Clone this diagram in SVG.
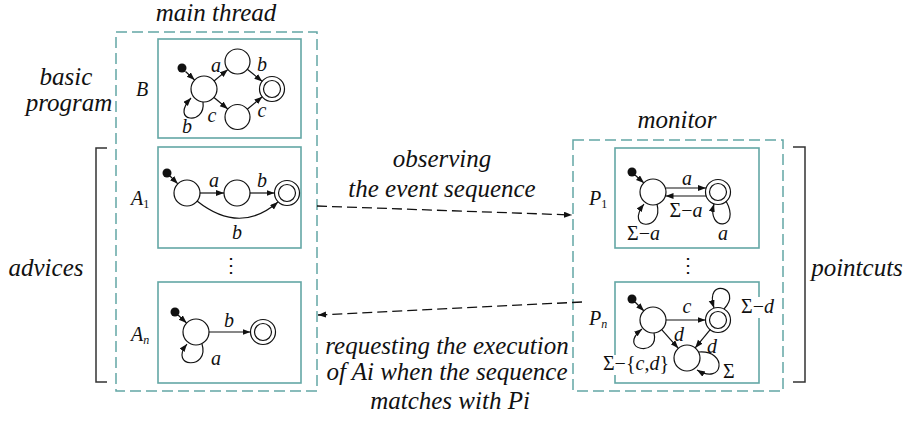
<svg xmlns="http://www.w3.org/2000/svg" width="907" height="424" viewBox="0 0 907 424">
<style>
.t{font-family:"Liberation Serif","Times New Roman",serif;font-style:italic;font-size:25px;fill:#111}
.l{font-family:"Liberation Serif","Times New Roman",serif;font-style:italic;font-size:20px;fill:#111}
.u{font-style:normal}
.sub{font-size:12px}
.dbox{fill:none;stroke:#63a7a5;stroke-width:1.5;stroke-dasharray:11 5}
.box{fill:#fff;stroke:#63a7a5;stroke-width:1.6}
.st{fill:#fff;stroke:#111;stroke-width:1.2}
.e{fill:none;stroke:#111;stroke-width:1.2;marker-end:url(#ah)}
.dash{fill:none;stroke:#111;stroke-width:1.3;stroke-dasharray:10 5;marker-end:url(#ah)}
.br{fill:none;stroke:#333;stroke-width:1.5}
</style>
<defs>
<marker id="ah" markerUnits="userSpaceOnUse" markerWidth="9" markerHeight="7" refX="8" refY="3" orient="auto">
<path d="M0,0 L8,3 L0,6 z" fill="#111"/>
</marker>
</defs>
<rect width="907" height="424" fill="#fff"/>

<g id="main-thread">
<rect class="dbox" x="116" y="32" width="201" height="359"/>
<text class="t" x="216" y="21" text-anchor="middle">main thread</text>
</g>

<g id="monitor">
<rect class="dbox" x="573" y="140" width="210" height="251"/>
<text class="t" x="677" y="128" text-anchor="middle">monitor</text>
</g>

<g id="labels-left">
<text class="t" x="66" y="85" text-anchor="middle">basic</text>
<text class="t" x="69" y="111" text-anchor="middle">program</text>
<text class="t" x="46" y="276" text-anchor="middle">advices</text>
<path class="br" d="M107,148 H96 V382 H107"/>
</g>

<g id="labels-right">
<path class="br" d="M793,147 H805 V382 H793"/>
<text class="t" x="857" y="276" text-anchor="middle">pointcuts</text>
</g>

<g id="B">
<rect class="box" x="158" y="39" width="143" height="99"/>
<text class="l" x="136" y="96">B</text>
<circle cx="182" cy="68" r="4.5" fill="#111"/>
<path class="e" d="M185.5,71.5 L194.6,80"/>
<circle class="st" cx="204" cy="89" r="13"/>
<circle class="st" cx="237.5" cy="61.5" r="12.5"/>
<circle class="st" cx="237.5" cy="117" r="12.5"/>
<circle class="st" cx="272" cy="89" r="12.5"/>
<circle class="st" cx="272" cy="89" r="8.5"/>
<path class="e" d="M214,81 L227.8,69.6"/>
<path class="e" d="M247.3,69.3 L262.3,81.4"/>
<path class="e" d="M214,97.5 L227.8,109"/>
<path class="e" d="M247.3,109.2 L262.3,96.7"/>
<path class="e" d="M203,102 C206,126 169,122 191,98"/>
<text class="l" x="216" y="72" text-anchor="middle">a</text>
<text class="l" x="262" y="71" text-anchor="middle">b</text>
<text class="l" x="212" y="122" text-anchor="middle">c</text>
<text class="l" x="262" y="117" text-anchor="middle">c</text>
<text class="l" x="187" y="133" text-anchor="middle">b</text>
</g>

<g id="A1">
<rect class="box" x="158" y="147" width="143" height="101"/>
<text class="l" x="131" y="205">A<tspan class="sub u" dy="3">1</tspan></text>
<circle cx="167" cy="173" r="4.5" fill="#111"/>
<path class="e" d="M170,176 L177.8,183.8"/>
<circle class="st" cx="187" cy="193" r="13"/>
<circle class="st" cx="237" cy="193" r="13"/>
<circle class="st" cx="287" cy="193" r="12.5"/>
<circle class="st" cx="287" cy="193" r="8.5"/>
<path class="e" d="M200,193 L224,193"/>
<path class="e" d="M250,193 L274.5,193"/>
<path class="e" d="M197,201 Q240,235 278,202"/>
<text class="l" x="214" y="187" text-anchor="middle">a</text>
<text class="l" x="262" y="187" text-anchor="middle">b</text>
<text class="l" x="237" y="239" text-anchor="middle">b</text>
</g>

<g id="ellipsis-left">
<text class="l u" x="231" y="272" text-anchor="middle">⋮</text>
</g>

<g id="An">
<rect class="box" x="158" y="282" width="143" height="101"/>
<text class="l" x="131" y="341">A<tspan class="sub" dy="3">n</tspan></text>
<circle cx="175" cy="312" r="4.5" fill="#111"/>
<path class="e" d="M178,315 L186.6,323"/>
<circle class="st" cx="196" cy="332" r="13"/>
<circle class="st" cx="263" cy="332" r="12.5"/>
<circle class="st" cx="263" cy="332" r="8.5"/>
<path class="e" d="M209,332 L250.5,332"/>
<path class="e" d="M202,344 C210,370 168,368 187,344"/>
<text class="l" x="229" y="327" text-anchor="middle">b</text>
<text class="l" x="216" y="365" text-anchor="middle">a</text>
</g>

<g id="P1">
<rect class="box" x="615" y="148" width="144" height="100"/>
<text class="l" x="589" y="205">P<tspan class="sub u" dy="3">1</tspan></text>
<circle cx="632" cy="172" r="4.5" fill="#111"/>
<path class="e" d="M635,175 L644,183"/>
<circle class="st" cx="653" cy="192" r="13"/>
<circle class="st" cx="718" cy="192" r="12.5"/>
<circle class="st" cx="718" cy="192" r="8.5"/>
<path class="e" d="M666,188 L706,188"/>
<path class="e" d="M706,196 L665.5,196"/>
<path class="e" d="M657,204 C664,232 624,230 644,204"/>
<path class="e" d="M726,201 C742,230 706,232 714,204"/>
<text class="l" x="687" y="185" text-anchor="middle">a</text>
<text class="l" x="686" y="217" text-anchor="middle"><tspan class="u">Σ−</tspan>a</text>
<text class="l" x="627" y="240"><tspan class="u">Σ−</tspan>a</text>
<text class="l" x="723" y="240" text-anchor="middle">a</text>
</g>

<g id="ellipsis-right">
<text class="l u" x="688" y="272" text-anchor="middle">⋮</text>
</g>

<g id="Pn">
<rect class="box" x="615" y="282" width="144" height="101"/>
<rect x="740" y="297" width="40" height="21" fill="#fff"/>
<rect x="600" y="355" width="70" height="20" fill="#fff"/>
<text class="l" x="589" y="325">P<tspan class="sub" dy="3">n</tspan></text>
<circle cx="632" cy="299" r="4.5" fill="#111"/>
<path class="e" d="M635,302 L644,311"/>
<circle class="st" cx="653" cy="320" r="13"/>
<circle class="st" cx="718" cy="320" r="12.5"/>
<circle class="st" cx="718" cy="320" r="8.5"/>
<circle class="st" cx="687" cy="358" r="13"/>
<path class="e" d="M666,320 L705.5,320"/>
<path class="e" d="M661.7,329.7 L678.3,348.3"/>
<path class="e" d="M710.4,329.3 L695.2,347.9"/>
<path class="e" d="M724,309 C744,288 704,276 714,308"/>
<path class="e" d="M654,333 C660,358 616,350 642,329"/>
<path class="e" d="M699,352 C728,350 724,386 697,370"/>
<text class="l" x="687" y="313" text-anchor="middle">c</text>
<text class="l" x="679" y="341" text-anchor="middle">d</text>
<text class="l" x="712" y="353" text-anchor="middle">d</text>
<text class="l" x="741" y="313"><tspan class="u">Σ−</tspan>d</text>
<text class="l" x="669" y="370" text-anchor="end"><tspan class="u">Σ−{</tspan>c<tspan class="u">,</tspan>d<tspan class="u">}</tspan></text>
<text class="l u" x="723" y="378">Σ</text>
</g>

<g id="connectors">
<path class="dash" d="M317,206 L572,215"/>
<path class="dash" d="M582,302 L318,315"/>
</g>

<g id="connector-labels">
<text class="t" x="442" y="167" text-anchor="middle">observing</text>
<text class="t" x="442" y="197" text-anchor="middle">the event sequence</text>
<text class="t" x="447" y="354" text-anchor="middle">requesting the execution</text>
<text class="t" x="447" y="380" text-anchor="middle">of Ai when the sequence</text>
<text class="t" x="450" y="409" text-anchor="middle">matches with Pi</text>
</g>
</svg>
